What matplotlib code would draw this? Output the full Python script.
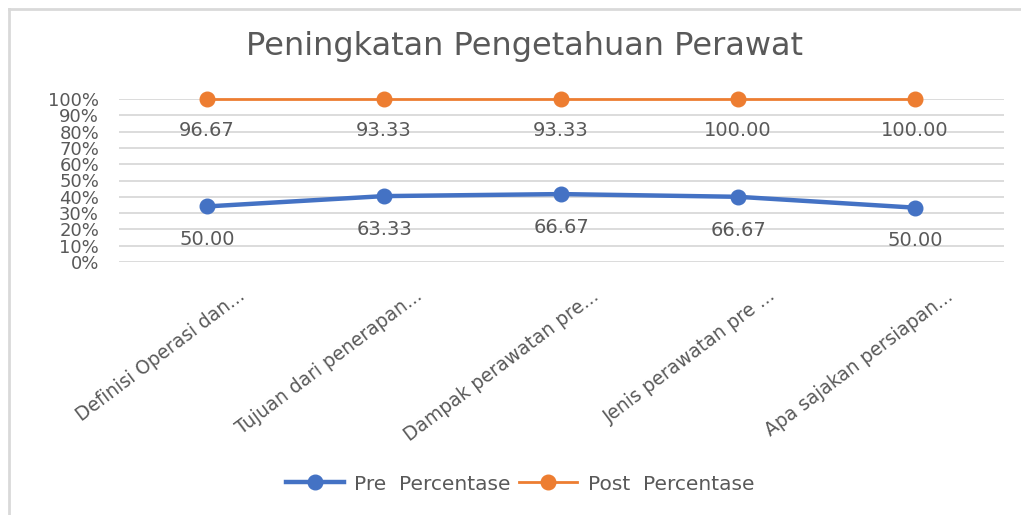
import numpy as np
import matplotlib
matplotlib.use("Agg")
import matplotlib.pyplot as plt
import matplotlib.transforms as mtransforms
from matplotlib.lines import Line2D
from matplotlib.ticker import PercentFormatter

categories = ["Definisi Operasi dan...", "Tujuan dari penerapan...",
              "Dampak perawatan pre...", "Jenis perawatan pre ...",
              "Apa sajakan persiapan..."]
pre = [50.00, 63.33, 66.67, 66.67, 50.00]
post = [96.67, 93.33, 93.33, 100.00, 100.00]
series_names = ["Pre  Percentase", "Post  Percentase"]
title = "Peningkatan Pengetahuan Perawat"

# 100% stacked line chart, like the Excel original
pre_arr = np.array(pre)
post_arr = np.array(post)
total = pre_arr + post_arr
pre_share = pre_arr / total
post_share = (pre_arr + post_arr) / total

plt.rcParams["font.family"] = ["DejaVu Sans"]
grey = "#595959"
blue = "#4472C4"
orange = "#ED7D31"

W, H = 1021, 515
fig = plt.figure(figsize=(W / 100, H / 100), dpi=100)
ax = fig.add_axes([118.5 / W, 1 - 262 / H, (1003.5 - 118.5) / W, (262 - 99) / H])

x = np.arange(len(categories))
ax.plot(x, pre_share, color=blue, lw=3.2, marker="o", ms=10.5, clip_on=False,
        label=series_names[0], zorder=3)
ax.plot(x, post_share, color=orange, lw=2, marker="o", ms=10.5, clip_on=False,
        label=series_names[1], zorder=3)

for xi, yi, v in zip(x, pre_share, pre):
    ax.annotate(f"{v:.2f}", (xi, yi), xytext=(0, -24), textcoords="offset points",
                ha="center", va="center", fontsize=14, color=grey)
for xi, yi, v in zip(x, post_share, post):
    ax.annotate(f"{v:.2f}", (xi, yi), xytext=(0, -23), textcoords="offset points",
                ha="center", va="center", fontsize=14, color=grey)

ax.set_xlim(-0.5, len(categories) - 0.5)
ax.set_ylim(0, 1)
ax.set_yticks(np.linspace(0, 1, 11))
ax.yaxis.set_major_formatter(PercentFormatter(1.0, decimals=0))
ax.grid(axis="y", color="#d9d9d9", lw=1.3)
ax.set_axisbelow(True)
for s in ax.spines.values():
    s.set_visible(False)
ax.tick_params(axis="y", length=0, pad=14, labelsize=13, labelcolor=grey)
ax.tick_params(axis="x", length=0, pad=8, labelsize=13.4, labelcolor=grey)
ax.set_xticks(x)
ax.set_xticklabels(categories, rotation=37, ha="right", rotation_mode="anchor")
# shift the rotated labels a bit to the right, as in the original
offset = mtransforms.ScaledTranslation(30 / 100, -13 / 100, fig.dpi_scale_trans)
for lab in ax.get_xticklabels():
    lab.set_transform(lab.get_transform() + offset)

fig.text(524 / W, 1 - 47 / H, title, ha="center", va="center",
         fontsize=23, color=grey)

fig.legend(loc="center", bbox_to_anchor=(520 / W, 1 - 484 / H), ncol=2,
           frameon=False, fontsize=14.5, labelcolor=grey, handlelength=2.9,
           columnspacing=0.4, handletextpad=0.5)

# chart border (only top and left are visible in the picture)
fig.add_artist(Line2D([9 / W, 1], [1 - 9 / H, 1 - 9 / H], color="#d9d9d9", lw=2))
fig.add_artist(Line2D([9 / W, 9 / W], [0, 1 - 9 / H], color="#d9d9d9", lw=2))

fig.savefig("out.png", dpi=100)
